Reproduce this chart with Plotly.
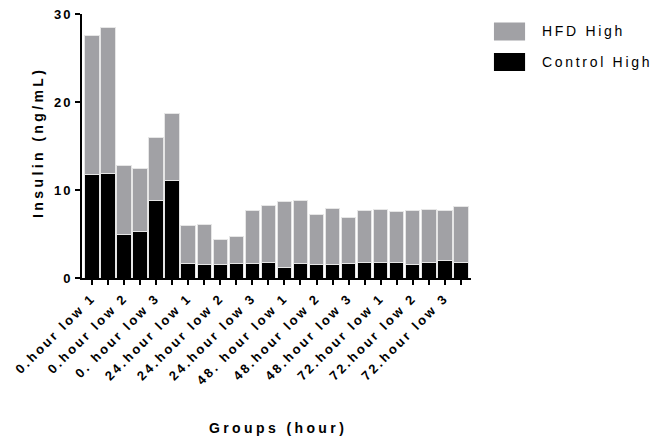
import plotly.graph_objects as go

tick_labels = ["0.hour low 1", "0.hour low 2", "0. hour low 3",
               "24.hour low 1", "24.hour low 2", "24.hour low 3",
               "48. hour low 1", "48.hour low 2", "48.hour low 3",
               "72.hour low 1", "72.hour low 2", "72.hour low 3"]
bar_index = list(range(24))
control_high = [11.76, 11.87, 5.00, 5.31, 8.76, 11.04, 1.67, 1.55, 1.55, 1.67, 1.63, 1.74,
                1.25, 1.67, 1.55, 1.55, 1.67, 1.71, 1.78, 1.71, 1.48, 1.71, 1.97, 1.74]
hfd_high = [15.77, 16.65, 7.78, 7.13, 7.24, 7.66, 4.32, 4.52, 2.81, 3.03, 6.03, 6.49,
            7.47, 7.13, 5.69, 6.30, 5.23, 5.95, 5.99, 5.87, 6.22, 6.10, 5.69, 6.41]
y_ticks = [0, 10, 20, 30]

GRAY = "#a1a1a5"
FONT = "Liberation Sans, Arial, sans-serif"

ticktext = []
for i in bar_index:
    ticktext.append(tick_labels[i // 2] if i % 2 == 0 else "")

fig = go.Figure()
fig.add_trace(go.Bar(x=bar_index, y=control_high, name="Control High",
                     marker=dict(color="black", line=dict(color="#e6e6e6", width=1)),
                     showlegend=False))
fig.add_trace(go.Bar(x=bar_index, y=hfd_high, name="HFD High",
                     marker=dict(color=GRAY, line=dict(color="#e6e6e6", width=1)),
                     showlegend=False))

fig.update_layout(
    barmode="stack", bargap=0.1,
    width=652, height=442,
    margin=dict(l=82, r=181, t=14, b=164),
    plot_bgcolor="white", paper_bgcolor="white",
    font=dict(family=FONT, color="black"),
    xaxis=dict(range=[-0.62, 23.63], tickmode="array", tickvals=bar_index, ticktext=ticktext,
               tickangle=-45, ticks="outside", ticklen=5, tickwidth=2, tickcolor="black",
               showline=True, linewidth=2, linecolor="black", showgrid=False, zeroline=False,
               automargin=False,
               tickfont=dict(family=FONT, size=13, color="black", weight="bold")),
    yaxis=dict(range=[0, 30], tickmode="array", tickvals=y_ticks,
               ticks="outside", ticklen=5, tickwidth=2, tickcolor="black",
               showline=True, linewidth=2, linecolor="black", showgrid=False, zeroline=False,
               automargin=False,
               tickfont=dict(family=FONT, size=13, color="black", weight="bold")),
)

# axis titles
fig.add_annotation(text="Groups (hour)", xref="paper", yref="paper", x=0.505, y=-0.568,
                   xanchor="center", yanchor="middle", showarrow=False,
                   font=dict(family=FONT, size=14, color="black", weight="bold"))
fig.add_annotation(text="Insulin (ng/mL)", xref="paper", yref="paper", x=-0.112, y=0.515,
                   xanchor="center", yanchor="middle", showarrow=False, textangle=-90,
                   font=dict(family=FONT, size=14, color="black", weight="bold"))

# custom legend (large swatches)
legend_items = [("HFD High", GRAY, 0.934), ("Control High", "black", 0.818)]
for label, color, yc in legend_items:
    fig.add_shape(type="rect", xref="paper", yref="paper",
                  x0=1.059, x1=1.139, y0=yc - 0.034, y1=yc + 0.034,
                  fillcolor=color, line=dict(width=0))
    fig.add_annotation(text=label, xref="paper", yref="paper", x=1.177, y=yc,
                       xanchor="left", yanchor="middle", align="left", showarrow=False,
                       font=dict(family=FONT, size=14, color="black"))

post = """
var st = document.createElement('style');
st.textContent = '.xtick text {letter-spacing: 2.6px;} .ytick text {letter-spacing: 2px;}' +
  ' .annotation[data-index="0"] text, .annotation[data-index="1"] text {letter-spacing: 3.4px;}' +
  ' .annotation[data-index="2"] text, .annotation[data-index="3"] text {letter-spacing: 2.7px;}';
document.head.appendChild(st);
"""
fig.write_html("out.html", post_script=post)
